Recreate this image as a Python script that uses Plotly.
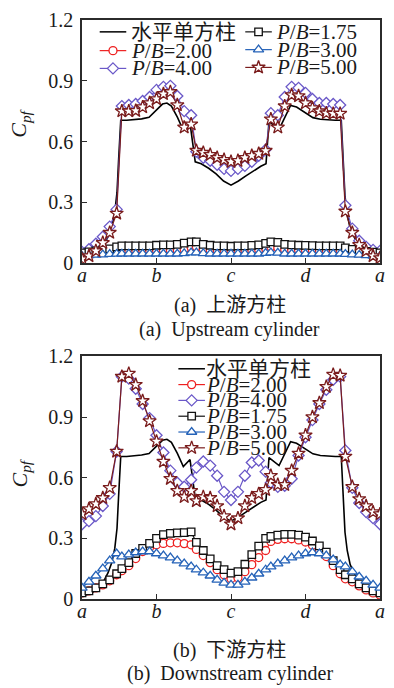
import plotly.graph_objects as go

FONT = "Liberation Serif, Noto Sans CJK SC, serif"
INK = "#1a1a1a"

# Perimeter position of each pressure tap (a, b, c, d are the face mid-points)
taps = [0.000, 0.093, 0.186, 0.279, 0.372, 0.465, 0.535, 0.628, 0.721, 0.814,
        0.907, 1.000, 1.093, 1.186, 1.279, 1.372, 1.465, 1.535, 1.628, 1.721,
        1.814, 1.907, 2.000, 2.093, 2.186, 2.279, 2.372, 2.465, 2.535, 2.628,
        2.721, 2.814, 2.907, 3.000, 3.093, 3.186, 3.279, 3.372, 3.465, 3.535,
        3.628, 3.721, 3.814, 3.907, 4.000]
tick_pos = [0, 1, 2, 3, 4]
tick_txt = ["a", "b", "c", "d", "a"]
y_ticks = [0, 0.3, 0.6, 0.9, 1.2]
y_tick_txt = ["0", "0.3", "0.6", "0.9", "1.2"]

# Isolated horizontal square cylinder (reference curve, same in both panels)
single_x = [0.00, 0.10, 0.20, 0.28, 0.35, 0.40, 0.44, 0.47, 0.49, 0.52, 0.60,
            0.70, 0.80, 0.90, 1.00, 1.08, 1.14, 1.20, 1.28, 1.36, 1.45, 1.52,
            1.60, 1.70, 1.80, 1.90, 2.00, 2.10, 2.20, 2.30, 2.40, 2.47, 2.51,
            2.645, 2.72, 2.80, 2.88, 3.00, 3.10, 3.20, 3.30, 3.40, 3.48, 3.51,
            3.53, 3.56, 3.60, 3.65, 3.72, 3.80, 3.90, 4.00]
single_cpf = [0.015, 0.025, 0.045, 0.08, 0.13, 0.18, 0.25, 0.35, 0.50, 0.705,
              0.705, 0.708, 0.712, 0.72, 0.755, 0.785, 0.79, 0.775, 0.72, 0.655,
              0.69, 0.50, 0.49, 0.468, 0.44, 0.405, 0.385, 0.405, 0.43, 0.455,
              0.478, 0.49, 0.70, 0.66, 0.72, 0.778, 0.77, 0.74, 0.718, 0.71,
              0.706, 0.705, 0.705, 0.50, 0.33, 0.24, 0.17, 0.13, 0.085, 0.055,
              0.035, 0.02]

# (a) upstream cylinder
up_pb200 = [0.045, 0.05, 0.053, 0.056, 0.058, 0.06, 0.062, 0.063, 0.063, 0.064,
            0.064, 0.064, 0.064, 0.064, 0.064, 0.068, 0.078, 0.08, 0.07, 0.064,
            0.064, 0.064, 0.063, 0.064, 0.064, 0.065, 0.066, 0.072, 0.08, 0.076,
            0.066, 0.064, 0.064, 0.064, 0.064, 0.063, 0.063, 0.062, 0.062, 0.058,
            0.055, 0.052, 0.05, 0.047, 0.045]
up_pb400 = [0.055, 0.068, 0.095, 0.13, 0.18, 0.265, 0.775, 0.78, 0.785, 0.80,
            0.82, 0.855, 0.87, 0.875, 0.825, 0.75, 0.73, 0.55, 0.52, 0.505,
            0.485, 0.465, 0.455, 0.465, 0.48, 0.50, 0.53, 0.56, 0.74, 0.73,
            0.82, 0.87, 0.865, 0.84, 0.81, 0.79, 0.79, 0.785, 0.78, 0.285,
            0.17, 0.11, 0.08, 0.065, 0.06]
up_pb175 = [0.05, 0.055, 0.06, 0.065, 0.07, 0.08, 0.085, 0.085, 0.085, 0.085,
            0.085, 0.088, 0.09, 0.09, 0.092, 0.098, 0.105, 0.105, 0.092, 0.088,
            0.085, 0.085, 0.083, 0.085, 0.085, 0.087, 0.09, 0.097, 0.105, 0.102,
            0.092, 0.09, 0.088, 0.087, 0.086, 0.085, 0.085, 0.085, 0.085, 0.075,
            0.068, 0.062, 0.058, 0.054, 0.05]
up_pb300 = [0.035, 0.038, 0.04, 0.042, 0.044, 0.045, 0.046, 0.046, 0.046, 0.046,
            0.046, 0.046, 0.046, 0.046, 0.046, 0.048, 0.052, 0.052, 0.048, 0.046,
            0.046, 0.046, 0.046, 0.046, 0.046, 0.046, 0.046, 0.049, 0.052, 0.05,
            0.046, 0.046, 0.046, 0.046, 0.046, 0.046, 0.046, 0.046, 0.046, 0.044,
            0.042, 0.04, 0.038, 0.036, 0.035]
up_pb500 = [0.02, 0.035, 0.06, 0.10, 0.15, 0.245, 0.75, 0.75, 0.752, 0.77,
            0.79, 0.81, 0.835, 0.845, 0.78, 0.67, 0.685, 0.555, 0.545, 0.535,
            0.52, 0.51, 0.50, 0.505, 0.52, 0.53, 0.54, 0.555, 0.71, 0.67,
            0.775, 0.83, 0.825, 0.79, 0.765, 0.75, 0.74, 0.738, 0.738, 0.255,
            0.15, 0.09, 0.06, 0.035, 0.025]

# (b) downstream cylinder
dn_pb200 = [0.03, 0.04, 0.055, 0.07, 0.09, 0.12, 0.14, 0.165, 0.20, 0.235,
            0.255, 0.268, 0.275, 0.278, 0.278, 0.274, 0.268, 0.245, 0.215, 0.18,
            0.145, 0.12, 0.10, 0.105, 0.135, 0.17, 0.205, 0.24, 0.285, 0.295,
            0.298, 0.298, 0.292, 0.282, 0.266, 0.242, 0.21, 0.165, 0.125, 0.10,
            0.085, 0.065, 0.045, 0.03, 0.02]
dn_pb400 = [0.37, 0.385, 0.41, 0.46, 0.52, 0.73, 1.10, 1.09, 1.04, 0.965,
            0.895, 0.81, 0.725, 0.635, 0.575, 0.555, 0.59, 0.65, 0.68, 0.66,
            0.61, 0.53, 0.49, 0.53, 0.61, 0.675, 0.685, 0.63, 0.575, 0.555,
            0.56, 0.595, 0.71, 0.80, 0.885, 0.965, 1.035, 1.085, 1.10, 0.735,
            0.55, 0.475, 0.43, 0.40, 0.37]
dn_pb175 = [0.03, 0.04, 0.055, 0.075, 0.095, 0.125, 0.15, 0.18, 0.225, 0.25,
            0.275, 0.30, 0.318, 0.325, 0.327, 0.328, 0.332, 0.28, 0.24, 0.198,
            0.165, 0.145, 0.128, 0.135, 0.172, 0.22, 0.262, 0.30, 0.31, 0.316,
            0.32, 0.32, 0.316, 0.306, 0.287, 0.263, 0.232, 0.19, 0.145, 0.12,
            0.10, 0.075, 0.055, 0.04, 0.03]
dn_pb300 = [0.055, 0.085, 0.115, 0.15, 0.19, 0.225, 0.21, 0.22, 0.23, 0.235,
            0.235, 0.225, 0.215, 0.205, 0.19, 0.175, 0.16, 0.145, 0.13, 0.115,
            0.095, 0.08, 0.07, 0.07, 0.085, 0.105, 0.125, 0.145, 0.16, 0.175,
            0.19, 0.205, 0.215, 0.225, 0.23, 0.225, 0.215, 0.195, 0.17, 0.16,
            0.135, 0.11, 0.09, 0.07, 0.055]
dn_pb500 = [0.42, 0.445, 0.47, 0.50, 0.55, 0.73, 1.10, 1.115, 1.06, 0.98,
            0.88, 0.78, 0.68, 0.595, 0.535, 0.505, 0.535, 0.485, 0.505, 0.50,
            0.46, 0.41, 0.37, 0.40, 0.46, 0.50, 0.52, 0.54, 0.61, 0.565,
            0.565, 0.635, 0.72, 0.81, 0.90, 0.97, 1.05, 1.11, 1.105, 0.705,
            0.555, 0.495, 0.46, 0.43, 0.42]

SINGLE = "水平单方柱"
# Series style: colour, symbol, size
styles = {
    SINGLE: ("#000000", None, 0),
    "2.00": ("#ee2020", "circle", 8),
    "4.00": ("#6a58c8", "diamond", 8.5),
    "1.75": ("#111111", "square", 7.5),
    "3.00": ("#2462b8", "triangle-up", 9),
    "5.00": ("#7a1c1c", "star", 10),
}
panels = [
    ("x", "y", {"2.00": up_pb200, "4.00": up_pb400, "1.75": up_pb175,
                "3.00": up_pb300, "5.00": up_pb500}),
    ("x2", "y2", {"2.00": dn_pb200, "4.00": dn_pb400, "1.75": dn_pb175,
                  "3.00": dn_pb300, "5.00": dn_pb500}),
]


def label(key):
    return SINGLE if key == SINGLE else "<i>P</i>/<i>B</i>=" + key


fig = go.Figure()
for xa, ya, data in panels:
    fig.add_trace(go.Scatter(
        x=single_x, y=single_cpf, xaxis=xa, yaxis=ya, mode="lines",
        line=dict(color="#000000", width=1.6), name=SINGLE,
        showlegend=False))
    for key in ["2.00", "4.00", "1.75", "3.00", "5.00"]:
        color, symbol, size = styles[key]
        fig.add_trace(go.Scatter(
            x=taps, y=data[key], xaxis=xa, yaxis=ya, mode="lines+markers",
            line=dict(color=color, width=1.2),
            marker=dict(symbol=symbol, size=size, color="#ffffff",
                        line=dict(color=color, width=1.3)),
            name="P/B=" + key, showlegend=False))

L, R, T, B = 82, 9, 13, 89
W, H = 394, 688
PW, PH = W - L - R, H - T - B


def px_x(px):
    return (px - L) / PW


def px_y(py):
    return (H - B - py) / PH


# Legend keys, laid out in pixel space on an invisible overlay axis pair:
# (series, key start x, row y, gap between key and label)
KEY_LEN = 27
legend_layout = [
    (SINGLE, 100, 25, 5), ("2.00", 100, 44, 5), ("4.00", 100, 62, 5),
    ("1.75", 248, 25, 4), ("3.00", 248, 43, 4), ("5.00", 248, 61, 4),
    (SINGLE, 180, 366, 1), ("2.00", 180, 382, 1), ("4.00", 180, 398, 1),
    ("1.75", 180, 414, 1), ("3.00", 180, 430, 1), ("5.00", 180, 446, 1),
]
for key, x0, yrow, gap in legend_layout:
    color, symbol, size = styles[key]
    fig.add_trace(go.Scatter(
        x=[x0, x0 + KEY_LEN], y=[yrow, yrow], xaxis="x3", yaxis="y3",
        mode="lines", line=dict(color=color, width=1.5 if symbol is None else 1.2),
        hoverinfo="skip", showlegend=False, cliponaxis=False))
    if symbol is not None:
        fig.add_trace(go.Scatter(
            x=[x0 + KEY_LEN / 2], y=[yrow], xaxis="x3", yaxis="y3",
            mode="markers",
            marker=dict(symbol=symbol, size=size, color="#ffffff",
                        line=dict(color=color, width=1.3)),
            hoverinfo="skip", showlegend=False, cliponaxis=False))
    fig.add_annotation(
        x=x0 + KEY_LEN + gap - 2, y=yrow, xref="x3", yref="y3",
        text=label(key), showarrow=False, xanchor="left", yanchor="middle",
        font=dict(family=FONT, size=21, color=INK))

axis_common = dict(
    showline=True, linecolor="#2b2b2b", linewidth=1.6, mirror=True,
    ticks="inside", ticklen=5, tickwidth=1.3, tickcolor="#2b2b2b",
    showgrid=False, zeroline=False,
    tickfont=dict(family=FONT, size=20, color=INK),
)
xaxis_cfg = dict(axis_common, range=[0, 4], tickvals=tick_pos,
                 ticktext=["<i>%s</i>" % t for t in tick_txt],
                 ticklabelstandoff=-7)
yaxis_cfg = dict(axis_common, range=[0, 1.2], tickvals=y_ticks,
                 ticktext=y_tick_txt, ticklabelstandoff=3)

fig.update_layout(
    width=W, height=H,
    margin=dict(l=L, r=R, t=T, b=B),
    paper_bgcolor="#ffffff", plot_bgcolor="rgba(0,0,0,0)",
    font=dict(family=FONT, color=INK),
    showlegend=False,
    xaxis=dict(xaxis_cfg, domain=[0, 1], anchor="y"),
    yaxis=dict(yaxis_cfg, domain=[px_y(259), 1], anchor="x"),
    xaxis2=dict(xaxis_cfg, domain=[0, 1], anchor="y2"),
    yaxis2=dict(yaxis_cfg, domain=[0, px_y(353.5)], anchor="x2"),
    xaxis3=dict(domain=[0, 1], range=[L, W - R], visible=False,
                anchor="y3", fixedrange=True),
    yaxis3=dict(domain=[0, 1], range=[H - B, T], visible=False,
                anchor="x3", fixedrange=True),
)

ytitle = "<i>C</i><sub><i>pf</i></sub>"
annotations = [
    (19, 118, ytitle, -90, 22),
    (19, 472, ytitle, -90, 22),
    (232, 302, "(a)\u00a0\u00a0上游方柱", 0, 20),
    (232, 326, "(a)\u00a0\u00a0Upstream cylinder", 0, 20),
    (232, 651, "(b)\u00a0\u00a0下游方柱", 0, 20),
    (232, 674, "(b)\u00a0\u00a0Downstream cylinder", 0, 20),
]
for ax_px, ay_px, txt, ang, fs in annotations:
    fig.add_annotation(
        x=px_x(ax_px), y=px_y(ay_px), xref="paper", yref="paper",
        text=txt, showarrow=False, textangle=ang,
        xanchor="center", yanchor="middle",
        font=dict(family=FONT, size=fs, color=INK))

fig.write_html("out.html")
